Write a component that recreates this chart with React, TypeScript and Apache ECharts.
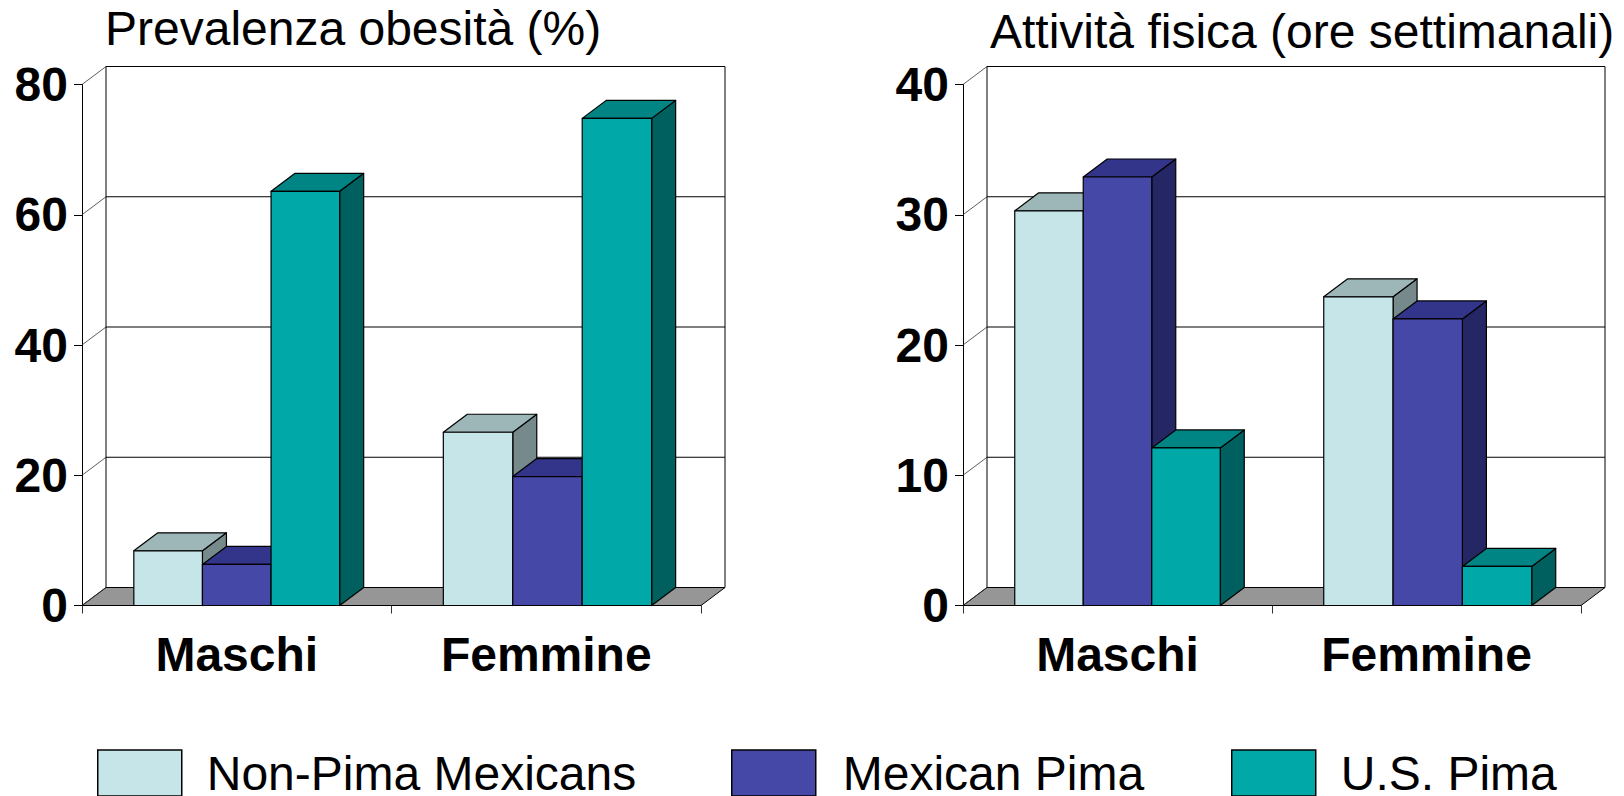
import React, { useEffect, useRef } from "react";
import * as echarts from "echarts";

const categories = ["Maschi", "Femmine"];
const groupNames = ["Non-Pima Mexicans", "Mexican Pima", "U.S. Pima"];

const obesityNonPima = [8.4, 26.6];
const obesityMexicanPima = [6.3, 19.8];
const obesityUsPima = [63.6, 74.8];

const activityNonPima = [30.3, 23.7];
const activityMexicanPima = [32.9, 22.0];
const activityUsPima = [12.1, 3.0];

const obesityTicks = [0, 20, 40, 60, 80];
const activityTicks = [0, 10, 20, 30, 40];

// front, top and side shades of each box
const shades = [
  { front: "#C6E5E8", top: "#9DB7B9", side: "#768A8B" },
  { front: "#4648A8", top: "#33358A", side: "#252765" },
  { front: "#00A8A8", top: "#008484", side: "#006060" },
];

const FONT = '"Liberation Sans", Arial, sans-serif';
const DEPTH_X = 24;
const DEPTH_Y = 18;
const BAR_SHARE = 0.2217;
const CATEGORY_WIDEN = [1, 1.012];
const LINE = "#000000";

// Oblique box for one bar: side and top faces first, then the front face.
function boxRenderer(seriesIndex: number) {
  const shade = shades[seriesIndex];
  return (_params: any, api: any) => {
    const category = api.value(0);
    const [cx, yTop] = api.coord([category, api.value(1)]);
    const [, yBase] = api.coord([category, 0]);
    const band = api.size([1, 0])[0];
    const baseWidth = band * BAR_SHARE;
    const w = baseWidth * CATEGORY_WIDEN[category];
    const x0 = cx - baseWidth * 1.5 + w * seriesIndex;
    const x1 = x0 + w;
    const stroke = { stroke: LINE, lineWidth: 1.2, lineJoin: "round" };
    const face = (points: number[][], fill: string) => ({
      type: "polygon",
      shape: { points },
      style: { fill, ...stroke },
    });
    return {
      type: "group",
      children: [
        face(
          [
            [x1, yTop],
            [x1 + DEPTH_X, yTop - DEPTH_Y],
            [x1 + DEPTH_X, yBase - DEPTH_Y],
            [x1, yBase],
          ],
          shade.side,
        ),
        face(
          [
            [x0, yTop],
            [x0 + DEPTH_X, yTop - DEPTH_Y],
            [x1 + DEPTH_X, yTop - DEPTH_Y],
            [x1, yTop],
          ],
          shade.top,
        ),
        face(
          [
            [x0, yTop],
            [x1, yTop],
            [x1, yBase],
            [x0, yBase],
          ],
          shade.front,
        ),
      ],
    };
  };
}

// Back wall, floor and gridlines, pushed back by the oblique offset of the plot.
function wallRenderer(params: any, api: any) {
  const { x, width } = params.coordSys;
  const xBack = x + DEPTH_X;
  const xEnd = x + width + DEPTH_X;
  const value = api.value(1);
  const y = api.coord([0, value])[1];
  const yBack = y - DEPTH_Y;
  const children: any[] = [
    {
      type: "line",
      shape: { x1: x, y1: y, x2: xBack, y2: yBack },
      style: { stroke: "#333333", lineWidth: 0.8 },
    },
    {
      type: "line",
      shape: { x1: xBack, y1: yBack, x2: xEnd, y2: yBack },
      style: { stroke: LINE, lineWidth: 1 },
    },
  ];
  if (value === 0) {
    children.unshift({
      type: "polygon",
      shape: {
        points: [
          [x, y],
          [xBack, yBack],
          [xEnd, yBack],
          [x + width, y],
        ],
      },
      style: { fill: "#969696", stroke: LINE, lineWidth: 1 },
    });
  } else if (value === api.value(2)) {
    const yFloor = api.coord([0, 0])[1] - DEPTH_Y;
    children.push(
      {
        type: "line",
        shape: { x1: xBack, y1: yBack, x2: xBack, y2: yFloor },
        style: { stroke: LINE, lineWidth: 1 },
      },
      {
        type: "line",
        shape: { x1: xEnd, y1: yBack, x2: xEnd, y2: yFloor },
        style: { stroke: LINE, lineWidth: 1 },
      },
    );
  }
  return { type: "group", children };
}

function panelSeries(axisIndex: number, ticks: number[], values: number[][]) {
  const max = ticks[ticks.length - 1];
  const wall = {
    type: "custom",
    name: `wall${axisIndex}`,
    xAxisIndex: axisIndex,
    yAxisIndex: axisIndex,
    clip: false,
    silent: true,
    renderItem: wallRenderer,
    encode: { x: 0, y: 1 },
    data: ticks.map((t) => [0, t, max]),
  };
  const boxes = values.map((vals, i) => ({
    type: "custom",
    name: groupNames[i],
    xAxisIndex: axisIndex,
    yAxisIndex: axisIndex,
    clip: false,
    itemStyle: { color: shades[i].front },
    renderItem: boxRenderer(i),
    encode: { x: 0, y: 1 },
    data: vals.map((v, c) => [c, v]),
  }));
  return [wall, ...boxes];
}

function categoryAxis(gridIndex: number) {
  return {
    type: "category",
    gridIndex,
    data: categories,
    axisLine: { show: true, lineStyle: { color: "#555555", width: 1 } },
    axisTick: { show: true, length: 8, lineStyle: { color: "#333333", width: 1 } },
    axisLabel: {
      color: "#000",
      fontFamily: FONT,
      fontWeight: "bold",
      fontSize: 48,
      margin: 25,
      interval: 0,
    },
  };
}

function valueAxis(gridIndex: number, ticks: number[]) {
  return {
    type: "value",
    gridIndex,
    min: 0,
    max: ticks[ticks.length - 1],
    interval: ticks[1] - ticks[0],
    splitLine: { show: false },
    axisLine: { show: true, lineStyle: { color: "#000", width: 1 } },
    axisTick: { show: true, length: 8, lineStyle: { color: "#000", width: 1 } },
    axisLabel: {
      color: "#000",
      fontFamily: FONT,
      fontWeight: "bold",
      fontSize: 48,
      margin: 14,
    },
  };
}

function legendEntry(name: string, left: number, textGap: number) {
  return {
    data: [name],
    left,
    top: 749,
    padding: 0,
    itemWidth: 84,
    itemHeight: 46,
    selectedMode: false,
    icon: "rect",
    itemStyle: { borderColor: "#000", borderWidth: 1.5 },
    textStyle: {
      color: "#000",
      fontFamily: FONT,
      fontSize: 48,
      padding: [0, 0, 0, textGap],
    },
  };
}

export default function App() {
  const ref = useRef<HTMLDivElement>(null);

  useEffect(() => {
    document.body.style.margin = "0";
    const chart = echarts.init(ref.current!, null, { renderer: "svg" });
    const titleStyle = { color: "#000", fontFamily: FONT, fontWeight: "normal", fontSize: 48 };
    chart.setOption({
      animation: false,
      backgroundColor: "#ffffff",
      title: [
        { text: "Prevalenza obesità (%)", left: 105, top: 4, padding: 0, textStyle: titleStyle },
        { text: "Attività fisica (ore settimanali)", left: 990, top: 7, padding: 0, textStyle: titleStyle },
      ],
      grid: [
        { left: 82, top: 84.5, width: 619, height: 521 },
        { left: 963, top: 84.5, width: 618, height: 521 },
      ],
      xAxis: [categoryAxis(0), categoryAxis(1)],
      yAxis: [valueAxis(0, obesityTicks), valueAxis(1, activityTicks)],
      legend: [
        legendEntry(groupNames[0], 97, 20),
        legendEntry(groupNames[1], 731, 22),
        legendEntry(groupNames[2], 1231, 20),
      ],
      series: [
        ...panelSeries(0, obesityTicks, [obesityNonPima, obesityMexicanPima, obesityUsPima]),
        ...panelSeries(1, activityTicks, [activityNonPima, activityMexicanPima, activityUsPima]),
      ],
    });
    return () => chart.dispose();
  }, []);

  return <div ref={ref} style={{ width: 1624, height: 796 }} />;
}
